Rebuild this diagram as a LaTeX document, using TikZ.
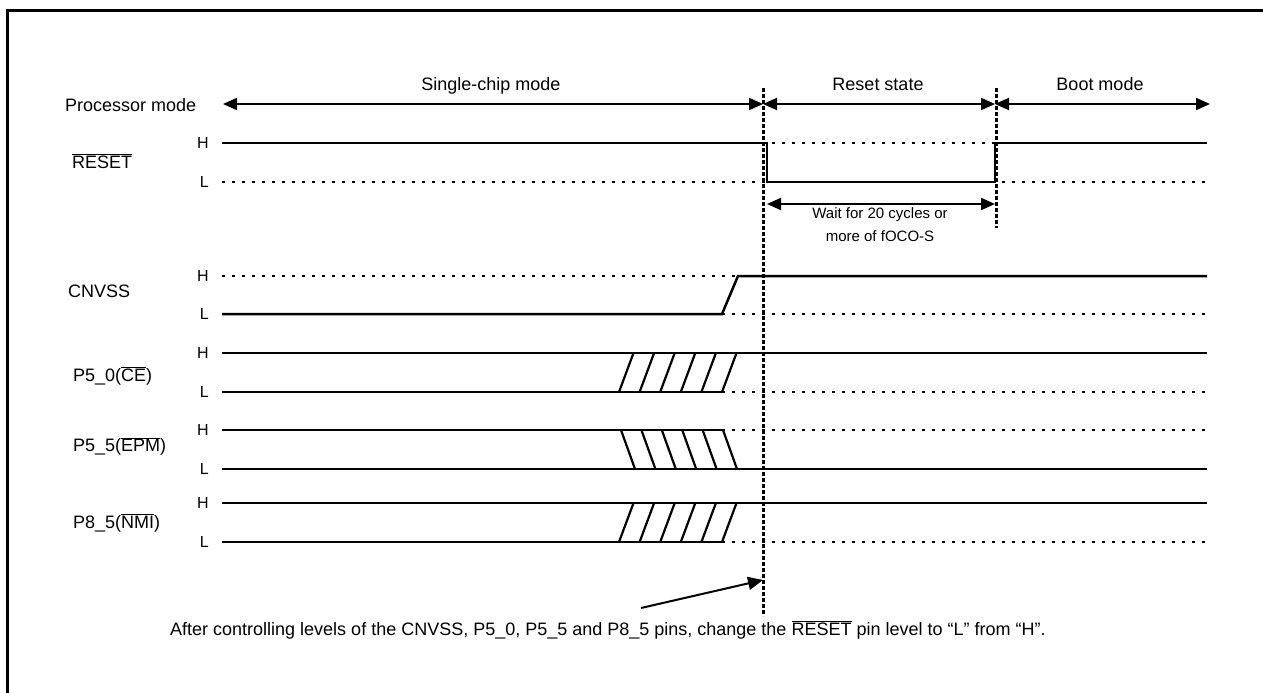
\documentclass[tikz,border=0pt]{standalone}
\usepackage{fontspec}
\setmainfont{Liberation Sans}
\usetikzlibrary{arrows.meta}
\newcommand{\ovl}[1]{$\overline{\mbox{#1}}$}

\begin{document}
\begin{tikzpicture}[
			x=1pt, y=-1pt,
			font=\fontsize{18}{21}\selectfont,
			every node/.style={inner sep=0pt},
			% Text styles
			signame/.style={anchor=base west},
			modename/.style={anchor=base},
			level/.style={anchor=east, font=\fontsize{16}{18}\selectfont},
			% Line styles
			levelline/.style={line width=2.5pt, dash pattern=on 2.5pt off 7.5pt},
			wave/.style={line width=2.5pt},
			hatch/.style={line width=2.2pt},
			marker/.style={line width=3pt, dash pattern=on 4pt off 2pt},
			modearrow/.style={<->, >={Triangle[length=14pt, width=12pt]}, line width=2pt},
			arrow/.style={->, >={Triangle[length=15pt, width=13pt]}, line width=2pt}
		]
		\useasboundingbox (0,0) rectangle (1263,693);

		% Frame
		\draw[line width=3pt] (7.5,693) -- (7.5,10.5) -- (1263,10.5);

		% Signal names
		\node[signame] (mode)  at (65,111.5) {Processor mode};
		\node[signame] (reset) at (72,168)   {\ovl{RESET}};
		\node[signame] (cnvss) at (68,297.5) {CNVSS};
		\node[signame] (ce)    at (73,381)   {P5\_0(\ovl{CE})};
		\node[signame] (epm)   at (73,451.5) {P5\_5(\ovl{EPM})};
		\node[signame] (nmi)   at (73,528)   {P8\_5(\ovl{NMI})};

		% H/L levels (dotted guides)
		\foreach \name/\hi/\lo in {reset/143/182, cnvss/276/314, ce/353/392, epm/430/469, nmi/503/542} {
			\node[level] (\name-h) at (209,\hi) {H};
			\node[level] (\name-l) at (209,\lo) {L};
			\draw[levelline] (222,\hi) -- (1207,\hi);
			\draw[levelline] (222,\lo) -- (1207,\lo);
		}

		% Processor mode
		\node[modename] (single)     at (491,90)  {Single-chip mode};
		\node[modename] (resetstate) at (878,90)  {Reset state};
		\node[modename] (boot)       at (1100,90) {Boot mode};

		\coordinate (mode-start) at (223,104);
		\coordinate (t-reset)    at (763,104);
		\coordinate (t-boot)     at (995,104);
		\coordinate (mode-end)   at (1210,104);

		\draw[modearrow] (mode-start) -- (t-reset);
		\draw[modearrow] (t-reset)    -- (t-boot);
		\draw[modearrow] (t-boot)     -- (mode-end);

		% Time markers
		\coordinate (mark1-top) at (763,88);
		\coordinate (mark1-bot) at (763,616);
		\coordinate (mark2-top) at (996,88);
		\coordinate (mark2-bot) at (996,228);
		\draw[marker] (mark1-top) -- (mark1-bot);
		\draw[marker] (mark2-top) -- (mark2-bot);

		% RESET
		\draw[wave] (222,143) -- (767,143) -- (767,182) -- (995,182)
			-- (995,143) -- (1207,143);

		\coordinate (wait-l) at (767,204);
		\coordinate (wait-r) at (995,204);
		\draw[modearrow] (wait-l) -- (wait-r);
		\node[align=center, anchor=north, font=\fontsize{15}{23}\selectfont] (wait)
			at (880,207) {Wait for 20 cycles or\\more of fOCO-S};

		% CNVSS
		\draw[wave] (222,314) -- (722,314) -- (738,276) -- (1207,276);

		% P5_0(CE)
		\draw[wave] (222,353) -- (1207,353);
		\draw[wave] (222,392) -- (722,392);
		\foreach \i in {0,...,5}
			\draw[hatch] (619+20.6*\i,392) -- (633.5+20.6*\i,353);

		% P5_5(EPM)
		\draw[wave] (222,430) -- (723,430);
		\draw[wave] (222,469) -- (1207,469);
		\foreach \i in {0,...,5}
			\draw[hatch] (621+20.4*\i,430) -- (635+20.4*\i,469);

		% P8_5(NMI)
		\draw[wave] (222,503) -- (1207,503);
		\draw[wave] (222,542) -- (722,542);
		\foreach \i in {0,...,5}
			\draw[hatch] (619+20.6*\i,542) -- (633.5+20.6*\i,503);

		% Note
		\node[anchor=base west, font=\fontsize{18}{21}\selectfont] (note) at (170,635)
			{After controlling levels of the CNVSS, P5\_0, P5\_5 and P8\_5 pins, change the \ovl{RESET} pin level to “L” from “H”.};
		\coordinate (note-tail) at (641,608);
		\coordinate (note-tip)  at (763,580);
		\draw[arrow] (note-tail) -- (note-tip);

		\end{tikzpicture}
\end{document}
